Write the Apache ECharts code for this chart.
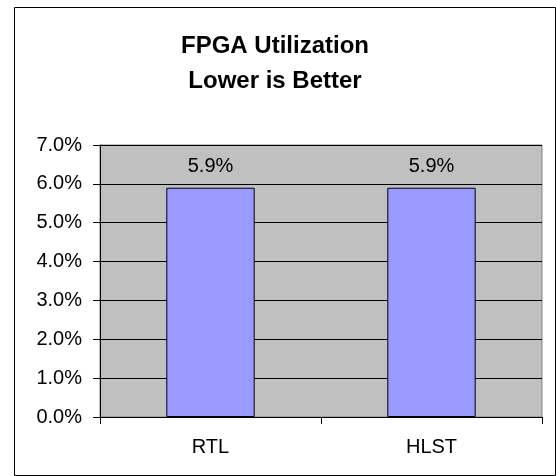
<!DOCTYPE html>
<html>
<head>
<meta charset="utf-8">
<script src="https://cdn.jsdelivr.net/npm/echarts@6/dist/echarts.min.js"></script>
<style>html,body{margin:0;padding:0;background:#fff}#c{width:556px;height:476px}</style>
</head>
<body>
<div id="c"></div>
<script>
const titleLines = ['FPGA Utilization', 'Lower is Better'];
const categories = ['RTL', 'HLST'];
const values = [0.059, 0.059];
const yTicks = [0, 0.01, 0.02, 0.03, 0.04, 0.05, 0.06, 0.07];

const chart = echarts.init(document.getElementById('c'), null, {renderer: 'canvas'});
const FONT = '"Liberation Sans", Arial, sans-serif';
chart.setOption({
  animation: false,
  backgroundColor: '#ffffff',
  title: {
    text: titleLines.join('\n'),
    left: 270,
    top: 24,
    textAlign: 'center',
    textStyle: {fontFamily: FONT, fontSize: 24, fontWeight: 'bold', color: '#000', lineHeight: 35}
  },
  graphic: [{
    type: 'rect', silent: true, z: -1,
    shape: {x: 14.5, y: 7.5, width: 541, height: 468},
    style: {fill: 'none', stroke: '#000', lineWidth: 1}
  }],
  grid: {
    left: 100, top: 145, right: 14, bottom: 59,
    show: true, backgroundColor: '#c0c0c0', borderColor: '#808080', borderWidth: 1
  },
  xAxis: {
    type: 'category',
    data: categories,
    axisLine: {show: true, lineStyle: {color: '#000', width: 1}},
    axisTick: {show: true, alignWithLabel: false, length: 7, lineStyle: {color: '#000'}},
    axisLabel: {fontFamily: FONT, fontSize: 20, color: '#000', margin: 20},
    splitLine: {show: false}
  },
  yAxis: {
    type: 'value',
    min: yTicks[0],
    max: yTicks[yTicks.length - 1],
    interval: 0.01,
    axisLine: {show: true, lineStyle: {color: '#000', width: 1}},
    axisTick: {show: true, length: 7, lineStyle: {color: '#000'}},
    axisLabel: {fontFamily: FONT, fontSize: 20, color: '#000', margin: 18,
      formatter: v => (v * 100).toFixed(1) + '%'},
    splitLine: {show: true, lineStyle: {color: '#000', width: 1}}
  },
  series: [{
    type: 'bar',
    data: values,
    barWidth: '40%',
    itemStyle: {color: '#9999ff', borderColor: '#000', borderWidth: 1},
    label: {show: true, position: 'top', distance: 11, fontFamily: FONT, fontSize: 20, color: '#000',
      formatter: p => (p.value * 100).toFixed(1) + '%'}
  }]
});
</script>
</body>
</html>
